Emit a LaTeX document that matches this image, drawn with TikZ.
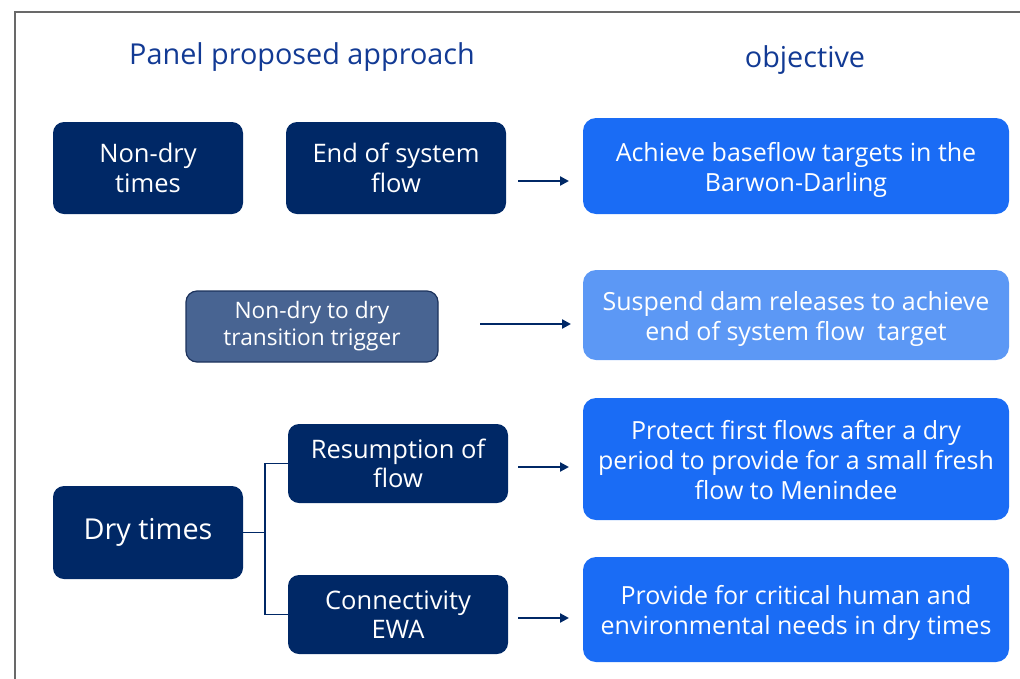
\documentclass[tikz,border=0pt]{standalone}
\usepackage{fontspec}
\setmainfont{Open Sans}
\usetikzlibrary{arrows.meta}
\definecolor{navy}{RGB}{0,40,102}
\definecolor{brightblue}{RGB}{26,108,245}
\definecolor{lightblue}{RGB}{92,152,245}
\definecolor{steel}{RGB}{72,100,146}
\definecolor{steelborder}{RGB}{28,50,92}
\definecolor{titleblue}{RGB}{18,58,148}
\definecolor{framegray}{RGB}{105,105,105}
\newcommand{\objtxt}[1]{\raisebox{-4pt}[\height][\depth]{\begin{tabular}{@{}c@{}}#1\end{tabular}}}
\tikzset{
  darkbox/.style={rectangle, rounded corners=11pt, fill=navy, text=white, align=center, inner sep=2pt, font=\fontsize{25.5}{29.5}\selectfont},
  objbox/.style={rectangle, rounded corners=13pt, fill=brightblue, text=white, inner sep=2pt, minimum width=426pt, font=\fontsize{25}{30}\selectfont},
  titletext/.style={text=titleblue, font=\fontsize{28.8}{32}\selectfont},
  arr/.style={draw=navy, line width=2.5pt, -{Triangle[length=9pt,width=9pt]}},
  brk/.style={draw=navy, line width=1.5pt}
}
\begin{document}
\begin{tikzpicture}[x=1pt,y=-1pt]
\useasboundingbox (0,0) rectangle (1020,678);
\draw[framegray, line width=2pt] (15,679) -- (15,12) -- (1021,12);
\node[titletext] (t1) at (302,57) {Panel proposed approach};
\node[titletext] (t2) at (805,60) {objective};
% left boxes
\node[darkbox, minimum width=190pt, minimum height=92pt] (nondry) at (148,168) {Non-dry\\times};
\node[darkbox, minimum width=220pt, minimum height=92pt] (eos) at (396,168) {End of system\\flow};
\node[darkbox, fill=steel, draw=steelborder, line width=1.2pt, minimum width=252pt, minimum height=71pt, font=\fontsize{22.7}{27}\selectfont] (trig) at (312,326.5) {Non-dry to dry\\transition trigger};
\node[darkbox, minimum width=220pt, minimum height=79pt] (res) at (398,463.5) {Resumption of\\flow};
\node[darkbox, minimum width=190pt, minimum height=93pt, font=\fontsize{28.8}{32}\selectfont] (dry) at (148,532.5) {Dry times};
\node[darkbox, minimum width=220pt, minimum height=79pt] (con) at (398,614.5) {Connectivity\\EWA};
% objectives
\node[objbox, minimum height=96pt] (o1) at (796,166) {\objtxt{Achieve baseflow targets in the\\Barwon-Darling}};
\node[objbox, fill=lightblue, minimum height=90pt] (o2) at (796,315) {\objtxt{Suspend dam releases to achieve\\end of system flow\ \ target}};
\node[objbox, minimum height=122pt] (o3) at (796,459) {\objtxt{Protect first flows after a dry\\period to provide for a small fresh\\flow to Menindee}};
\node[objbox, minimum height=105pt] (o4) at (796,609.5) {\objtxt{Provide for critical human and\\environmental needs in dry times}};
% arrows
\coordinate (a1s) at (518,181); \coordinate (a1e) at (569,181);
\coordinate (a2s) at (480,324); \coordinate (a2e) at (571,324);
\coordinate (a3s) at (518,467); \coordinate (a3e) at (569,467);
\coordinate (a4s) at (518,618); \coordinate (a4e) at (569,618);
\draw[arr] (a1s) -- (a1e);
\draw[arr] (a2s) -- (a2e);
\draw[arr] (a3s) -- (a3e);
\draw[arr] (a4s) -- (a4e);
% bracket
\coordinate (bj) at (265,532.5);
\draw[brk] (dry.east) -- (bj);
\draw[brk] (res.west) -| (bj) |- (con.west);
\end{tikzpicture}
\end{document}
